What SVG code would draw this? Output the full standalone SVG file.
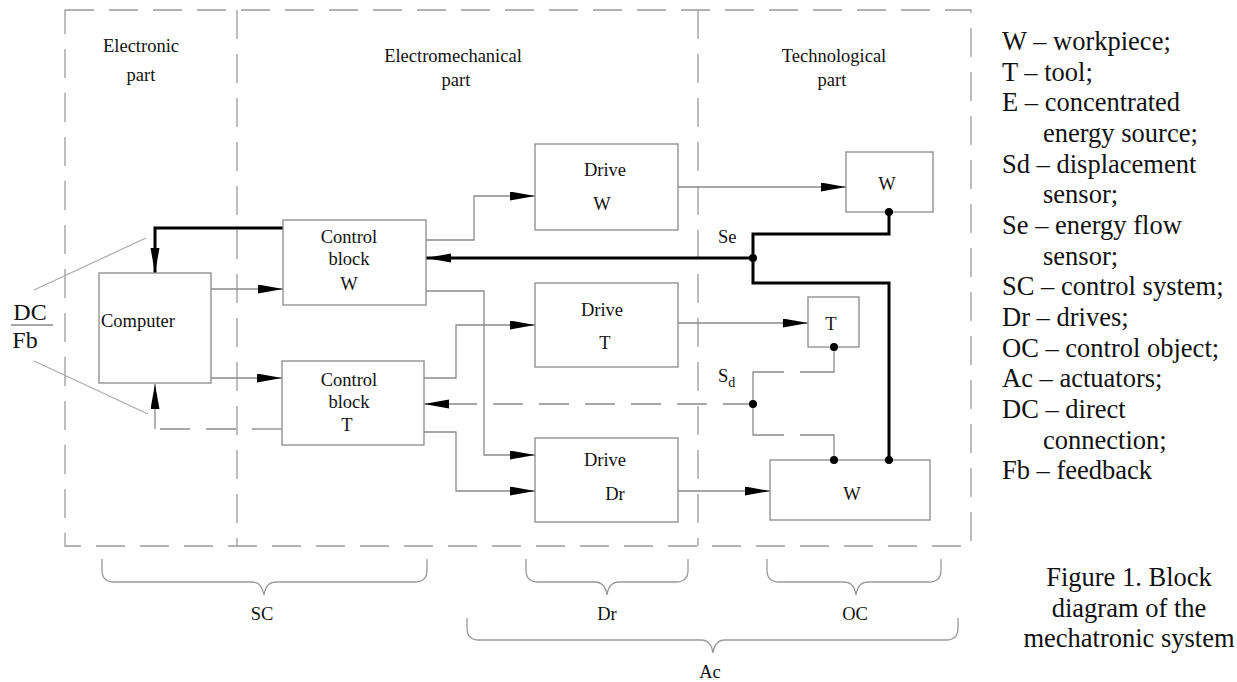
<svg xmlns="http://www.w3.org/2000/svg" width="1237" height="682" viewBox="0 0 1237 682" font-family="Liberation Serif, Times New Roman, serif">
<defs>
<style>
text{font-family:"Liberation Serif","Times New Roman",serif;fill:#111}
.t{font-size:18.5px;text-anchor:middle}
.lg{font-size:26.5px}
.cap{font-size:26.5px;text-anchor:middle}
.box{fill:#fff;stroke:#8a8a8a;stroke-width:1.3}
.frame{fill:none;stroke:#9a9a9a;stroke-width:1.3;stroke-dasharray:29 15}
.thin{fill:none;stroke:#8a8a8a;stroke-width:1.3}
.dash{fill:none;stroke:#8a8a8a;stroke-width:1.3;stroke-dasharray:30 16}
.thick{fill:none;stroke:#000;stroke-width:3}
.brace{fill:none;stroke:#9a9a9a;stroke-width:1.3}
.dot{fill:#000}
</style>
<marker id="ar" markerUnits="userSpaceOnUse" markerWidth="26" markerHeight="10" refX="25" refY="4.5" orient="auto">
<path d="M0,0 L25,4.5 L0,9 Z" fill="#000"/>
</marker>
</defs>
<rect width="1237" height="682" fill="#fff"/>

<g id="frame">
<rect class="frame" x="65" y="10" width="906" height="536"/>
<line class="frame" x1="237" y1="10" x2="237" y2="546"/>
<line class="frame" x1="698" y1="10" x2="698" y2="546"/>
<text class="t" x="141" y="52">Electronic</text>
<text class="t" x="141" y="81">part</text>
<text class="t" x="453" y="62">Electromechanical</text>
<text class="t" x="456" y="86">part</text>
<text class="t" x="834" y="62">Technological</text>
<text class="t" x="832" y="86">part</text>
</g>

<g id="connectors">
<path class="thin" d="M211,289 H283" marker-end="url(#ar)"/>
<path class="thin" d="M211,378 H282" marker-end="url(#ar)"/>
<path class="thin" d="M426,240 H474 V196 H535" marker-end="url(#ar)"/>
<path class="thin" d="M426,291 H484 V455 H535" marker-end="url(#ar)"/>
<path class="thin" d="M424,378 H456 V325 H535" marker-end="url(#ar)"/>
<path class="thin" d="M424,432 H456 V491 H535" marker-end="url(#ar)"/>
<path class="thin" d="M678,187 H846" marker-end="url(#ar)"/>
<path class="thin" d="M678,323 H808" marker-end="url(#ar)"/>
<path class="thin" d="M678,491 H770" marker-end="url(#ar)"/>
<path class="thick" d="M889,212 V234 H753 V283 H889 V460"/>
<path class="thick" d="M753,258 H426" marker-end="url(#ar)"/>
<path class="thick" d="M283,228 H155 V273" marker-end="url(#ar)"/>
<path class="thin" d="M834,347 V372 H800 M784,372 H753 V435 H784 M800,435 H834 V460"/>
<path class="dash" d="M753,404 H424" marker-end="url(#ar)"/>
<path class="dash" d="M282,429 H155" stroke-dasharray="32 16"/>
<path class="thin" d="M155,429 V384" marker-end="url(#ar)"/>
<line x1="34" y1="290" x2="146" y2="238" stroke="#aaa" stroke-width="1.2"/>
<line x1="34" y1="361" x2="148" y2="414" stroke="#aaa" stroke-width="1.2"/>
</g>

<g id="computer">
<rect class="box" x="99" y="273" width="112" height="110"/>
<text x="101" y="327" style="font-size:18.5px">Computer</text>
</g>
<g id="control-block-w">
<rect class="box" x="283" y="220" width="143" height="85"/>
<text class="t" x="349" y="243">Control</text>
<text class="t" x="349" y="265">block</text>
<text class="t" x="349" y="290">W</text>
</g>
<g id="control-block-t">
<rect class="box" x="282" y="361" width="142" height="84"/>
<text class="t" x="349" y="386">Control</text>
<text class="t" x="349" y="408">block</text>
<text class="t" x="347" y="431">T</text>
</g>
<g id="drive-w">
<rect class="box" x="535" y="144" width="143" height="86"/>
<text class="t" x="605" y="176">Drive</text>
<text class="t" x="602" y="210">W</text>
</g>
<g id="drive-t">
<rect class="box" x="535" y="283" width="143" height="84"/>
<text class="t" x="602" y="316">Drive</text>
<text class="t" x="605" y="349">T</text>
</g>
<g id="drive-dr">
<rect class="box" x="535" y="438" width="143" height="84"/>
<text class="t" x="605" y="466">Drive</text>
<text class="t" x="615" y="500">Dr</text>
</g>
<g id="w-top">
<rect class="box" x="846" y="152" width="87" height="60"/>
<text class="t" x="887" y="190">W</text>
</g>
<g id="t-tool">
<rect class="box" x="808" y="297" width="51" height="50"/>
<text class="t" x="831" y="330">T</text>
</g>
<g id="w-bottom">
<rect class="box" x="770" y="460" width="160" height="60"/>
<text class="t" x="852" y="500">W</text>
</g>

<g id="junctions">
<circle class="dot" cx="889" cy="212" r="4"/>
<circle class="dot" cx="753" cy="258" r="4"/>
<circle class="dot" cx="889" cy="460" r="4"/>
<circle class="dot" cx="834" cy="347" r="4"/>
<circle class="dot" cx="753" cy="404" r="4"/>
<circle class="dot" cx="834" cy="460" r="4"/>
</g>

<g id="sensor-labels">
<text x="718" y="243" style="font-size:18.5px">Se</text>
<text x="718" y="382" style="font-size:18.5px">S<tspan dy="5" style="font-size:14px">d</tspan></text>
</g>

<g id="dcfb">
<text x="30" y="320" style="font-size:24px;text-anchor:middle">DC</text>
<line x1="11" y1="325" x2="53" y2="325" stroke="#555" stroke-width="1"/>
<text x="25" y="348" style="font-size:24px;text-anchor:middle">Fb</text>
</g>

<g id="braces">
<path class="brace" d="M102,559 V570 Q102,582 114,582 H252 Q262,582 264,595 Q266,582 276,582 H415 Q427,582 427,570 V559"/>
<path class="brace" d="M526,559 V570 Q526,582 538,582 H595 Q605,582 607,595 Q609,582 619,582 H676 Q688,582 688,570 V559"/>
<path class="brace" d="M767,559 V570 Q767,582 779,582 H844 Q854,582 856,595 Q858,582 868,582 H929 Q941,582 941,570 V559"/>
<path class="brace" d="M467,618 V628 Q467,640 479,640 H701 Q711,640 713,653 Q715,640 725,640 H946 Q958,640 958,628 V618"/>
<text class="t" x="262" y="620">SC</text>
<text class="t" x="607" y="620">Dr</text>
<text class="t" x="855" y="620">OC</text>
<text class="t" x="710" y="678">Ac</text>
</g>

<g id="legend">
<text class="lg" x="1002" y="50">W – workpiece;</text>
<text class="lg" x="1002" y="81">T – tool;</text>
<text class="lg" x="1002" y="111">E – concentrated</text>
<text class="lg" x="1043" y="142">energy source;</text>
<text class="lg" x="1002" y="173">Sd – displacement</text>
<text class="lg" x="1043" y="203">sensor;</text>
<text class="lg" x="1002" y="234">Se – energy flow</text>
<text class="lg" x="1043" y="265">sensor;</text>
<text class="lg" x="1002" y="295">SC – control system;</text>
<text class="lg" x="1002" y="326">Dr – drives;</text>
<text class="lg" x="1002" y="357">OC – control object;</text>
<text class="lg" x="1002" y="387">Ac – actuators;</text>
<text class="lg" x="1002" y="418">DC – direct</text>
<text class="lg" x="1043" y="449">connection;</text>
<text class="lg" x="1002" y="479">Fb – feedback</text>
</g>

<g id="caption">
<text class="cap" x="1129" y="586">Figure 1. Block</text>
<text class="cap" x="1129" y="617">diagram of the</text>
<text class="cap" x="1129" y="647">mechatronic system</text>
</g>
</svg>
